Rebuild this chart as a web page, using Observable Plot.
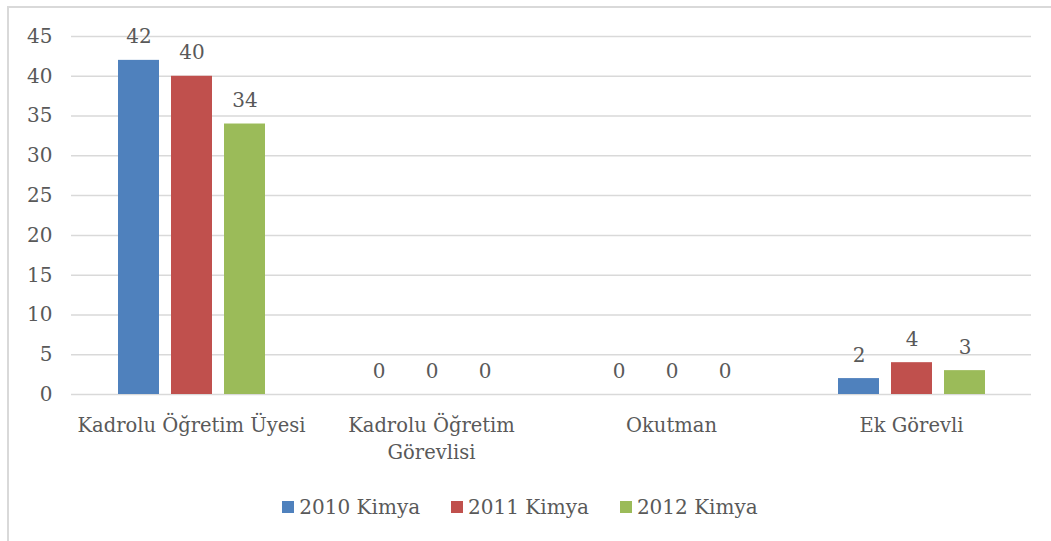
<!DOCTYPE html>
<html>
<head>
<meta charset="utf-8">
<script src="https://cdn.jsdelivr.net/npm/d3@7"></script>
<script src="https://cdn.jsdelivr.net/npm/@observablehq/plot@0.6"></script>
<style>
  html, body { margin: 0; padding: 0; background: #fff; }
  #wrap { position: relative; width: 1051px; height: 541px; overflow: hidden; font-family: "DejaVu Serif", serif; }
  #border { position: absolute; left: 7px; top: 6px; width: 1100px; height: 600px; border-left: 2px solid #d9d9d9; border-top: 2px solid #d9d9d9; box-sizing: border-box; }
  #chart { position: absolute; left: 0; top: 0; }
  #legend { position: absolute; left: 0; top: 495px; width: 1040px; display: flex; justify-content: center; gap: 31px; font-size: 20px; color: #595959; }
  .item { display: flex; align-items: center; gap: 5px; }
  .sw { width: 12px; height: 12px; display: inline-block; }
</style>
</head>
<body>
<div id="wrap">
  <div id="border"></div>
  <div id="chart"></div>
  <div id="legend"></div>
</div>
<script>
const categories = ["Kadrolu Öğretim Üyesi", "Kadrolu Öğretim Görevlisi", "Okutman", "Ek Görevli"];
const categoryLabels = ["Kadrolu Öğretim Üyesi", "Kadrolu Öğretim\nGörevlisi", "Okutman", "Ek Görevli"];
const seriesNames = ["2010 Kimya", "2011 Kimya", "2012 Kimya"];
const seriesColors = ["#4f81bd", "#c0504d", "#9bbb59"];
const values2010 = [42, 0, 0, 2];
const values2011 = [40, 0, 0, 4];
const values2012 = [34, 0, 0, 3];
const yTicks = [0, 5, 10, 15, 20, 25, 30, 35, 40, 45];

const seriesValues = [values2010, values2011, values2012];
const data = [];
categories.forEach((c, i) => {
  seriesNames.forEach((s, j) => data.push({category: c, series: s, value: seriesValues[j][i]}));
});
const labelOf = new Map(categories.map((c, i) => [c, categoryLabels[i]]));

const textColor = "#595959";
const chart = Plot.plot({
  width: 1051,
  height: 475,
  marginLeft: 70,
  marginRight: 19,
  marginTop: 36,
  marginBottom: 81,
  style: {fontFamily: "DejaVu Serif, serif", fontSize: "20px", color: textColor, background: "transparent"},
  fx: {domain: categories, paddingInner: 0, paddingOuter: 0, label: null},
  x: {domain: seriesNames, paddingInner: 0.23, paddingOuter: 0.865, axis: null},
  y: {domain: [0, 45], label: null},
  color: {domain: seriesNames, range: seriesColors},
  marks: [
    Plot.ruleY(yTicks, {stroke: "#d9d9d9", strokeWidth: 1.5}),
    Plot.axisY({ticks: yTicks, tickSize: 0, tickPadding: 19, fontSize: 20, fill: textColor, label: null}),
    Plot.axisFx({anchor: "bottom", tickSize: 0, tickPadding: 19, fontSize: 19.5, fill: textColor, lineHeight: 1.36, tickFormat: d => labelOf.get(d), label: null}),
    Plot.barY(data, {fx: "category", x: "series", y: "value", fill: "series"}),
    Plot.text(data, {fx: "category", x: "series", y: "value", text: d => String(d.value), lineAnchor: "bottom", dy: -17, fontSize: 20, fill: textColor})
  ]
});
document.getElementById("chart").appendChild(chart);

const legend = document.getElementById("legend");
seriesNames.forEach((s, i) => {
  const item = document.createElement("div");
  item.className = "item";
  const sw = document.createElement("span");
  sw.className = "sw";
  sw.style.background = seriesColors[i];
  const t = document.createElement("span");
  t.textContent = s;
  item.appendChild(sw);
  item.appendChild(t);
  legend.appendChild(item);
});
</script>
</body>
</html>
